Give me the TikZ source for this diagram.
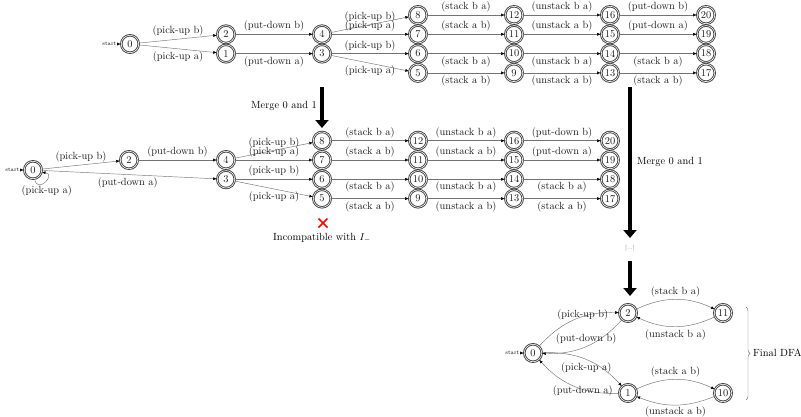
\documentclass[tikz,border=0pt]{standalone}
\usepackage{fontspec}
\usetikzlibrary{arrows.meta,decorations.pathreplacing}
\begin{document}
\begin{tikzpicture}[x=1pt,y=-1pt,
  every node/.style={font=\fontsize{10.4}{12}\selectfont},
  st/.style={circle,draw=black!75,double,line width=0.9pt,double distance=0.6pt,
    minimum size=17.5pt,inner sep=0pt,text=black!90},
  conn/.style={draw=black!55,line width=0.45pt,-{Latex[length=3.6pt,width=3pt,color=black]}},
  lab/.style={inner sep=2.5pt,text=black!90},
  startlbl/.style={font=\fontsize{5.5}{6}\selectfont,inner sep=0.5pt},
  bigarrow/.style={line width=4pt,-{Triangle[length=8pt,width=13pt]}},
]
\useasboundingbox (0,0) rectangle (801,416);

% ---------- first automaton (left part) ----------
\node[st] (t0) at (130,44) {0};
\node[st] (t2) at (226,34.3) {2};
\node[st] (t1) at (226,53.6) {1};
\node[st] (t4) at (322,34.3) {4};
\node[st] (t3) at (322,53.6) {3};
\node[startlbl,anchor=east] (t0s) at (117,44) {start};
\draw[conn] (t0s) -- (t0);

% ---------- second automaton (left part) ----------
\node[st] (m0) at (33,170) {0};
\node[st] (m2) at (129,160) {2};
\node[st] (m4) at (226,160) {4};
\node[st] (m3) at (226,179.3) {3};
\node[startlbl,anchor=east] (m0s) at (20,170) {start};
\draw[conn] (m0s) -- (m0);

% ---------- shared right part of both automata ----------
\foreach \p/\dx/\dy in {t/0/0, m/-96/125.7} {
  \node[st] (\p8) at (418+\dx,15+\dy) {8};
  \node[st] (\p7) at (418+\dx,34.3+\dy) {7};
  \node[st] (\p6) at (418+\dx,53.6+\dy) {6};
  \node[st] (\p5) at (418+\dx,72.9+\dy) {5};
  \node[st] (\p12) at (514+\dx,15+\dy) {12};
  \node[st] (\p11) at (514+\dx,34.3+\dy) {11};
  \node[st] (\p10) at (514+\dx,53.6+\dy) {10};
  \node[st] (\p9) at (514+\dx,72.9+\dy) {9};
  \node[st] (\p16) at (610+\dx,15+\dy) {16};
  \node[st] (\p15) at (610+\dx,34.3+\dy) {15};
  \node[st] (\p14) at (610+\dx,53.6+\dy) {14};
  \node[st] (\p13) at (610+\dx,72.9+\dy) {13};
  \node[st] (\p20) at (706+\dx,15+\dy) {20};
  \node[st] (\p19) at (706+\dx,34.3+\dy) {19};
  \node[st] (\p18) at (706+\dx,53.6+\dy) {18};
  \node[st] (\p17) at (706+\dx,72.9+\dy) {17};
  \draw[conn] (\p4) -- node[lab,above] {(pick-up b)} (\p8);
  \draw[conn] (\p4) -- node[lab,above] {(pick-up a)} (\p7);
  \draw[conn] (\p3) -- node[lab,above] {(pick-up b)} (\p6);
  \draw[conn] (\p3) -- node[lab,below] {(pick-up a)} (\p5);
  \draw[conn] (\p8) -- node[lab,above] {(stack b a)} (\p12);
  \draw[conn] (\p7) -- node[lab,above] {(stack a b)} (\p11);
  \draw[conn] (\p6) -- node[lab,below] {(stack b a)} (\p10);
  \draw[conn] (\p5) -- node[lab,below] {(stack a b)} (\p9);
  \draw[conn] (\p12) -- node[lab,above] {(unstack b a)} (\p16);
  \draw[conn] (\p11) -- node[lab,above] {(unstack a b)} (\p15);
  \draw[conn] (\p10) -- node[lab,below] {(unstack b a)} (\p14);
  \draw[conn] (\p9) -- node[lab,below] {(unstack a b)} (\p13);
  \draw[conn] (\p16) -- node[lab,above] {(put-down b)} (\p20);
  \draw[conn] (\p15) -- node[lab,above] {(put-down a)} (\p19);
  \draw[conn] (\p14) -- node[lab,below] {(stack b a)} (\p18);
  \draw[conn] (\p13) -- node[lab,below] {(stack a b)} (\p17);
}

% first automaton, left transitions
\draw[conn] (t0) -- node[lab,above] {(pick-up b)} (t2);
\draw[conn] (t0) -- node[lab,below] {(pick-up a)} (t1);
\draw[conn] (t2) -- node[lab,above] {(put-down b)} (t4);
\draw[conn] (t1) -- node[lab,below] {(put-down a)} (t3);

% second automaton, left transitions
\draw[conn] (m0) -- node[lab,above] {(pick-up b)} (m2);
\draw[conn] (m0) -- node[lab,below,pos=0.49] {(put-down a)} (m3);
\draw[conn] (m2) -- node[lab,above] {(put-down b)} (m4);
\draw[conn] (m0.-80) .. controls +(-80:16pt) and +(-5:15pt) .. node[lab,below,pos=0.55,xshift=1pt,yshift=-1.5pt] {(pick-up a)} (m0.-15);

% rejection mark
\draw[red,line width=1.6pt] (318.5,218.5) -- (327.5,227.5) (318.5,227.5) -- (327.5,218.5);
\node (inc) at (322,238) {Incompatible with $I_-$};

% merge steps
\coordinate (a1s) at (322,87);
\coordinate (a1e) at (322,128);
\draw[bigarrow] (a1s) -- (a1e);
\node[anchor=east,inner sep=1pt] (mg1) at (318,106) {Merge 0 and 1};

\coordinate (a2s) at (630,87);
\coordinate (a2e) at (630,238);
\draw[bigarrow] (a2s) -- (a2e);
\node[anchor=west,inner sep=1pt] (mg2) at (636,162) {Merge 0 and 1};
\node[font=\fontsize{5.5}{6}\selectfont,text=black!55] (dots) at (630,248) {[...]};
\coordinate (a3e) at (630,296);
\draw[bigarrow] (dots.south) ++(0,7) coordinate (a3s) (a3s) -- (a3e);

% ---------- final automaton ----------
\node[st] (f0) at (533,353) {0};
\node[st] (f2) at (628,313) {2};
\node[st] (f1) at (628,393) {1};
\node[st] (f11) at (723,313) {11};
\node[st] (f10) at (723,393) {10};
\node[startlbl,anchor=east] (f0s) at (520,353) {start};
\draw[conn] (f0s) -- (f0);

\draw[conn] (f0) to[bend left=25] node[lab,pos=0.6,yshift=2pt] {(pick-up b)} (f2);
\draw[conn] (f2) to[bend left=25] node[lab,pos=0.5,anchor=south] {(put-down b)} (f0);
\draw[conn] (f0) to[bend left=25] node[lab,pos=0.5,anchor=north] {(pick-up a)} (f1);
\draw[conn] (f1) to[bend left=25] node[lab,pos=0.4,yshift=-1.5pt] {(put-down a)} (f0);
\draw[conn] (f2) to[bend left=25] node[lab,above] {(stack b a)} (f11);
\draw[conn] (f11) to[bend left=25] node[lab,below] {(unstack b a)} (f2);
\draw[conn] (f1) to[bend left=25] node[lab,above] {(stack a b)} (f10);
\draw[conn] (f10) to[bend left=22] node[lab,below,inner sep=1.2pt] {(unstack a b)} (f1);

\coordinate (brt) at (746,307);
\coordinate (brb) at (746,400);
\draw[black!55,line width=0.45pt,decorate,decoration={brace,amplitude=4pt}] (brt) -- (brb);
\node[anchor=west,inner sep=1pt] (fdfa) at (752,353) {Final DFA};
\end{tikzpicture}
\end{document}
